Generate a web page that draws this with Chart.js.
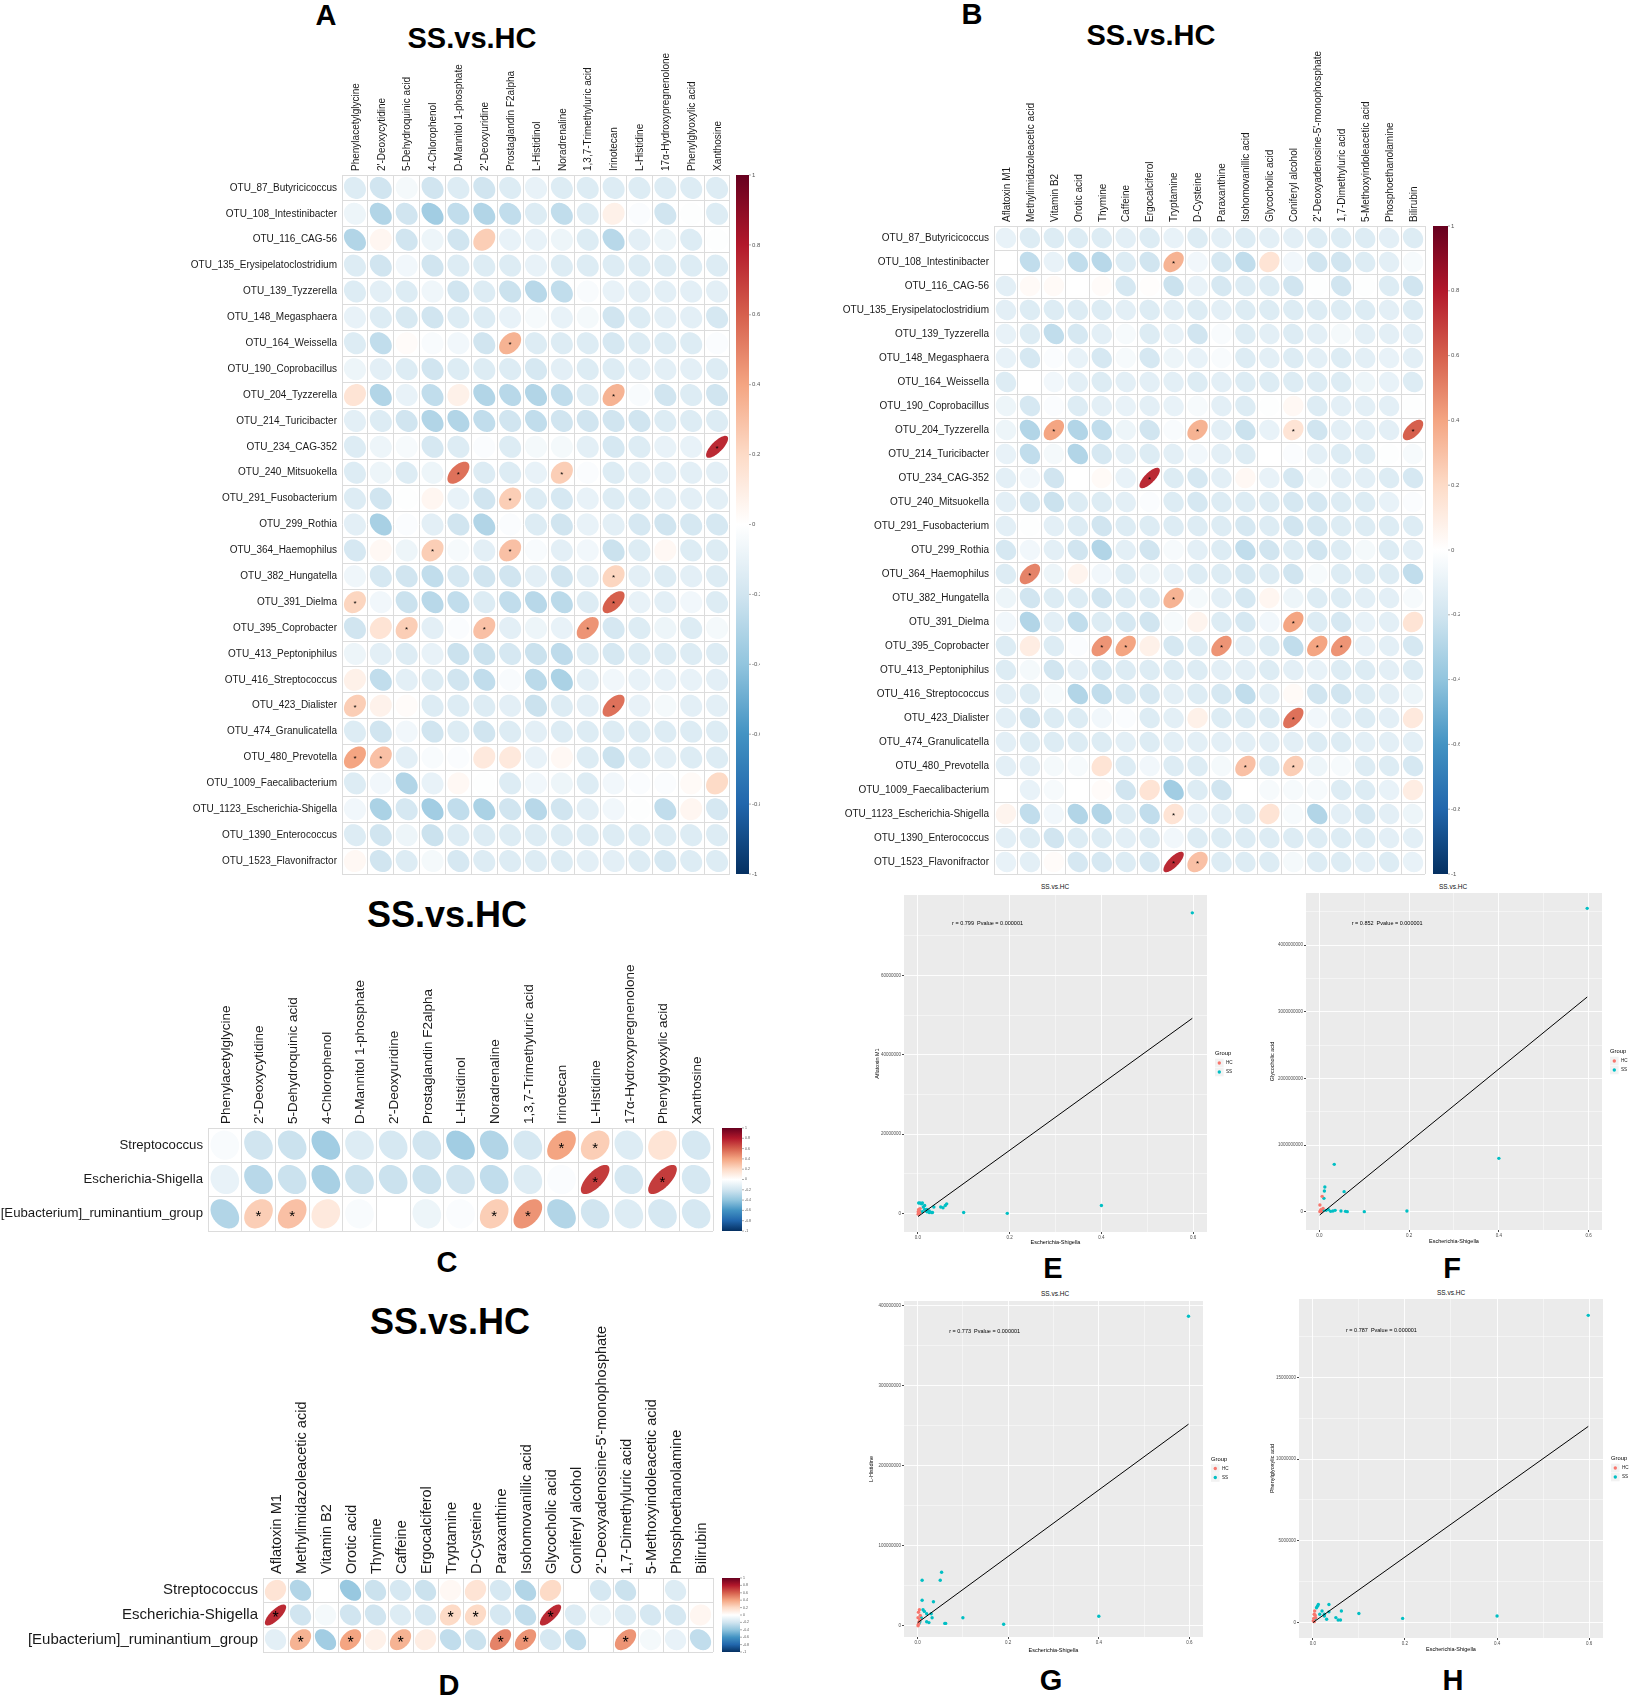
<!DOCTYPE html>
<html>
<head>
<meta charset="utf-8">
<script src="https://cdn.jsdelivr.net/npm/chart.js@4.4.1/dist/chart.umd.min.js"></script>
<style>
  body { margin: 0; background: #fff; width: 1629px; height: 1702px; position: relative; overflow: hidden;
         font-family: "Liberation Sans", Arial, sans-serif; }
  .box { position: absolute; }
  .txt { position: absolute; transform: translate(-50%, -50%); white-space: nowrap; color: #000; line-height: 1; }
  .letter { font-weight: bold; font-size: 29px; }
  .big { font-weight: bold; font-size: 29px; }
  .bigC { font-weight: bold; font-size: 36px; }
  .small { font-size: 6.5px; color: #111; }
</style>
</head>
<body>

<div class="txt letter" style="left:326px;top:15px">A</div>
<div class="txt big" style="left:472px;top:38px">SS.vs.HC</div>
<div class="txt letter" style="left:972px;top:14px">B</div>
<div class="txt big" style="left:1151px;top:35px">SS.vs.HC</div>
<div class="txt bigC" style="left:447px;top:915px">SS.vs.HC</div>
<div class="txt letter" style="left:447px;top:1262px">C</div>
<div class="txt bigC" style="left:450px;top:1322px">SS.vs.HC</div>
<div class="txt letter" style="left:449px;top:1685px">D</div>
<div class="txt letter" style="left:1053px;top:1268px">E</div>
<div class="txt letter" style="left:1452px;top:1268px">F</div>
<div class="txt letter" style="left:1051px;top:1680px">G</div>
<div class="txt letter" style="left:1453px;top:1680px">H</div>
<div class="txt small" style="left:1055px;top:887px">SS.vs.HC</div>
<div class="txt small" style="left:1453px;top:887px">SS.vs.HC</div>
<div class="txt small" style="left:1055px;top:1294px">SS.vs.HC</div>
<div class="txt small" style="left:1451px;top:1293px">SS.vs.HC</div>

<div class="box" style="left:185px;top:45px;width:600px;height:840px"><canvas id="chartA"></canvas></div>
<div class="box" style="left:830px;top:40px;width:640px;height:845px"><canvas id="chartB"></canvas></div>
<div class="box" style="left:0px;top:940px;width:770px;height:300px"><canvas id="chartC"></canvas></div>
<div class="box" style="left:0px;top:1315px;width:770px;height:350px"><canvas id="chartD"></canvas></div>
<div class="box" style="left:860px;top:880px;width:390px;height:370px"><canvas id="chartE"></canvas></div>
<div class="box" style="left:1250px;top:880px;width:379px;height:370px"><canvas id="chartF"></canvas></div>
<div class="box" style="left:860px;top:1285px;width:390px;height:370px"><canvas id="chartG"></canvas></div>
<div class="box" style="left:1250px;top:1285px;width:379px;height:370px"><canvas id="chartH"></canvas></div>

<script>
// ---- categories ----
const otuRows = ['OTU_87_Butyricicoccus', 'OTU_108_Intestinibacter', 'OTU_116_CAG-56', 'OTU_135_Erysipelatoclostridium',
  'OTU_139_Tyzzerella', 'OTU_148_Megasphaera', 'OTU_164_Weissella', 'OTU_190_Coprobacillus', 'OTU_204_Tyzzerella',
  'OTU_214_Turicibacter', 'OTU_234_CAG-352', 'OTU_240_Mitsuokella', 'OTU_291_Fusobacterium', 'OTU_299_Rothia',
  'OTU_364_Haemophilus', 'OTU_382_Hungatella', 'OTU_391_Dielma', 'OTU_395_Coprobacter', 'OTU_413_Peptoniphilus',
  'OTU_416_Streptococcus', 'OTU_423_Dialister', 'OTU_474_Granulicatella', 'OTU_480_Prevotella',
  'OTU_1009_Faecalibacterium', 'OTU_1123_Escherichia-Shigella', 'OTU_1390_Enterococcus', 'OTU_1523_Flavonifractor'];

const metabA = ['Phenylacetylglycine', "2'-Deoxycytidine", '5-Dehydroquinic acid', '4-Chlorophenol',
  'D-Mannitol 1-phosphate', "2'-Deoxyuridine", 'Prostaglandin F2alpha', 'L-Histidinol', 'Noradrenaline',
  '1,3,7-Trimethyluric acid', 'Irinotecan', 'L-Histidine', '17α-Hydroxypregnenolone', 'Phenylglyoxylic acid', 'Xanthosine'];

const metabB = ['Aflatoxin M1', 'Methylimidazoleacetic acid', 'Vitamin B2', 'Orotic acid', 'Thymine', 'Caffeine',
  'Ergocalciferol', 'Tryptamine', 'D-Cysteine', 'Paraxanthine', 'Isohomovanillic acid', 'Glycocholic acid',
  'Coniferyl alcohol', "2'-Deoxyadenosine-5'-monophosphate", '1,7-Dimethyluric acid', '5-Methoxyindoleacetic acid',
  'Phosphoethanolamine', 'Bilirubin'];

const genusRows = ['Streptococcus', 'Escherichia-Shigella', '[Eubacterium]_ruminantium_group'];

// ---- correlation values (rows x columns) ----
const valuesA = [
  [-0.15,-0.2,-0.05,-0.2,-0.15,-0.2,-0.15,-0.1,-0.15,-0.15,-0.15,-0.15,-0.15,-0.15,-0.15],
  [-0.08,-0.3,-0.2,-0.35,-0.25,-0.3,-0.25,-0.15,-0.25,-0.15,0.08,-0.02,-0.2,-0.01,-0.15],
  [-0.3,0.05,-0.2,-0.08,-0.2,0.25,-0.1,-0.1,-0.08,-0.15,-0.28,-0.12,-0.08,-0.15,-0.01],
  [-0.15,-0.2,-0.06,-0.2,-0.15,-0.15,-0.15,-0.1,-0.15,-0.15,-0.15,-0.15,-0.15,-0.15,-0.15],
  [-0.15,-0.12,-0.15,-0.07,-0.2,-0.15,-0.22,-0.28,-0.25,-0.03,-0.1,-0.12,-0.12,-0.12,-0.12],
  [-0.1,-0.15,-0.17,-0.2,-0.15,-0.15,-0.1,-0.04,-0.1,-0.05,-0.2,-0.15,-0.12,-0.12,-0.18],
  [-0.15,-0.25,0.02,-0.03,-0.06,-0.2,0.35,-0.15,-0.15,-0.15,-0.18,-0.15,-0.15,-0.15,-0.02],
  [-0.08,-0.12,-0.15,-0.2,-0.15,-0.15,-0.15,-0.18,-0.12,-0.15,-0.15,-0.12,-0.12,-0.12,-0.15],
  [0.15,-0.3,-0.1,-0.25,0.08,-0.3,-0.28,-0.3,-0.25,-0.15,0.35,-0.03,-0.2,-0.15,-0.2],
  [-0.12,-0.15,-0.2,-0.3,-0.3,-0.25,-0.2,-0.25,-0.2,-0.2,-0.2,-0.2,-0.15,-0.15,-0.15],
  [-0.15,-0.08,-0.04,-0.18,-0.15,-0.02,-0.15,-0.05,-0.05,-0.12,-0.18,-0.15,-0.1,-0.1,0.75],
  [-0.15,-0.08,-0.15,-0.08,0.55,-0.15,-0.15,-0.1,0.25,-0.02,-0.15,-0.12,-0.12,-0.12,-0.12],
  [-0.15,-0.2,-0.01,0.05,-0.1,-0.2,0.25,-0.15,-0.18,-0.1,-0.15,-0.15,-0.12,-0.12,-0.12],
  [-0.12,-0.33,-0.02,-0.12,-0.2,-0.3,-0.02,-0.15,-0.2,-0.1,-0.12,-0.18,-0.2,-0.18,-0.18],
  [-0.18,0.04,-0.08,0.25,-0.04,-0.12,0.3,-0.03,-0.12,-0.06,-0.22,-0.15,0.04,-0.15,-0.15],
  [-0.07,-0.18,-0.2,-0.25,-0.18,-0.2,-0.2,-0.12,-0.2,-0.12,0.22,-0.12,-0.15,-0.12,-0.15],
  [0.22,-0.06,-0.22,-0.28,-0.25,-0.15,-0.25,-0.28,-0.27,-0.15,0.6,-0.1,-0.12,-0.06,-0.15],
  [-0.2,0.15,0.25,-0.12,-0.02,0.3,-0.12,-0.08,-0.1,0.45,-0.18,-0.15,-0.08,-0.15,-0.05],
  [-0.08,-0.12,-0.15,-0.1,-0.22,-0.22,-0.18,-0.22,-0.26,-0.15,-0.18,-0.15,-0.15,-0.15,-0.15],
  [0.08,-0.25,-0.12,-0.15,-0.2,-0.25,-0.03,-0.27,-0.32,-0.12,-0.06,-0.1,-0.1,-0.1,-0.12],
  [0.25,0.07,0.02,-0.15,-0.15,-0.15,-0.12,-0.22,-0.15,-0.12,0.55,-0.1,-0.05,-0.12,-0.12],
  [-0.15,-0.2,-0.06,-0.2,-0.15,-0.2,-0.15,-0.12,-0.15,-0.15,-0.15,-0.15,-0.15,-0.15,-0.15],
  [0.4,0.3,-0.12,-0.03,-0.02,0.12,0.12,-0.1,0.04,-0.15,-0.22,-0.15,-0.12,-0.15,-0.15],
  [-0.15,-0.06,-0.3,-0.1,0.04,-0.01,-0.15,-0.06,-0.08,-0.15,-0.06,-0.02,-0.02,0.03,0.2],
  [-0.06,-0.32,-0.18,-0.35,-0.25,-0.32,-0.2,-0.28,-0.2,-0.12,-0.06,-0.01,-0.25,0.05,-0.18],
  [-0.15,-0.2,-0.08,-0.22,-0.15,-0.15,-0.15,-0.15,-0.15,-0.15,-0.15,-0.15,-0.15,-0.15,-0.15],
  [0.04,-0.2,-0.15,-0.05,-0.18,-0.15,-0.15,-0.15,-0.15,-0.12,-0.12,-0.15,-0.18,-0.15,-0.15]
];
const sigA = [[6,6],[8,10],[10,14],[11,4],[11,8],[12,6],[14,3],[14,6],[15,10],[16,0],[16,10],
  [17,2],[17,5],[17,9],[20,0],[20,10],[22,0],[22,1]];

const valuesB = [
  [-0.1,-0.15,-0.15,-0.15,-0.15,-0.12,-0.15,-0.1,-0.15,-0.12,-0.15,-0.12,-0.12,-0.15,-0.15,-0.15,-0.12,-0.15],
  [0,-0.25,-0.1,-0.25,-0.28,-0.15,-0.2,0.35,-0.06,-0.18,-0.25,0.15,-0.06,-0.2,-0.2,-0.15,-0.12,-0.04],
  [-0.12,0.03,0.03,0,0.02,-0.18,0.01,-0.22,-0.1,-0.18,-0.15,-0.15,-0.2,-0.01,-0.2,-0.01,-0.15,-0.2],
  [-0.12,-0.15,-0.15,-0.15,-0.15,-0.12,-0.15,-0.12,-0.15,-0.12,-0.15,-0.15,-0.15,-0.15,-0.15,-0.15,-0.12,-0.15],
  [-0.1,-0.15,-0.25,-0.18,-0.12,-0.04,-0.15,-0.1,-0.2,-0.03,-0.15,-0.12,-0.15,-0.12,-0.05,-0.12,-0.12,-0.12],
  [-0.1,-0.18,-0.02,-0.1,-0.18,-0.04,-0.18,-0.08,-0.1,-0.03,-0.15,-0.12,-0.15,-0.12,-0.15,-0.12,-0.1,-0.12],
  [-0.15,0,-0.06,-0.12,-0.15,-0.12,-0.12,-0.12,-0.15,-0.12,-0.15,-0.15,-0.15,-0.15,-0.15,-0.08,-0.1,-0.15],
  [-0.08,-0.18,-0.02,-0.15,-0.12,-0.1,-0.12,-0.1,-0.04,-0.12,-0.15,-0.01,0.04,-0.15,-0.12,-0.12,-0.12,-0.01],
  [-0.08,-0.3,0.4,-0.3,-0.25,-0.08,-0.2,-0.03,0.35,-0.12,-0.22,-0.1,0.15,-0.2,-0.12,-0.12,-0.12,0.6],
  [-0.1,-0.25,-0.05,-0.3,-0.18,-0.12,-0.15,-0.12,-0.06,-0.12,-0.15,0,-0.02,-0.12,-0.15,-0.15,-0.01,-0.04],
  [-0.12,-0.06,-0.2,0,0.03,-0.1,0.75,-0.15,-0.18,-0.12,0.04,-0.1,-0.18,-0.05,-0.12,-0.12,-0.15,-0.18],
  [-0.12,-0.18,-0.22,-0.15,-0.15,-0.12,-0.02,-0.15,-0.18,-0.15,-0.15,-0.15,-0.18,-0.18,-0.15,-0.15,-0.1,-0.02],
  [-0.12,-0.01,-0.12,-0.15,-0.2,-0.15,-0.15,-0.15,-0.15,-0.15,-0.18,-0.15,-0.2,-0.18,-0.15,-0.15,-0.15,-0.15],
  [-0.18,-0.06,-0.12,-0.2,-0.3,-0.12,-0.2,-0.04,-0.12,-0.15,-0.25,-0.2,-0.15,-0.2,-0.15,-0.05,-0.15,-0.12],
  [-0.15,0.5,-0.08,0.06,-0.06,-0.15,-0.08,-0.1,-0.15,-0.15,-0.18,-0.15,-0.2,-0.04,-0.15,-0.15,-0.15,-0.25],
  [-0.08,-0.2,-0.15,-0.15,-0.2,-0.15,-0.15,0.35,-0.05,-0.12,-0.18,0.05,-0.08,-0.15,-0.15,-0.12,-0.12,-0.04],
  [-0.06,-0.3,-0.12,-0.25,-0.15,-0.18,-0.2,-0.04,0.06,-0.15,-0.18,-0.06,0.4,-0.15,-0.18,-0.1,-0.12,0.15],
  [-0.15,0.1,-0.15,-0.02,0.45,0.4,0.08,-0.18,-0.15,0.45,-0.12,-0.15,-0.25,0.4,0.45,-0.1,-0.12,-0.18],
  [-0.15,-0.05,-0.2,-0.12,-0.18,-0.15,-0.15,-0.15,-0.15,-0.12,-0.12,-0.15,-0.12,-0.1,-0.15,-0.15,-0.12,-0.15],
  [-0.12,-0.15,-0.04,-0.3,-0.25,-0.18,-0.18,-0.12,-0.15,-0.18,-0.25,-0.12,0.03,-0.2,-0.2,-0.15,-0.12,-0.08],
  [-0.12,-0.2,-0.15,-0.15,-0.06,-0.02,-0.15,-0.12,0.08,-0.15,-0.15,-0.15,0.55,-0.06,-0.12,-0.15,-0.12,0.12],
  [-0.12,-0.15,-0.15,-0.15,-0.15,-0.12,-0.15,-0.12,-0.12,-0.12,-0.12,-0.12,-0.12,-0.15,-0.15,-0.12,-0.12,-0.12],
  [-0.12,-0.12,-0.05,-0.04,0.15,-0.15,-0.06,-0.15,-0.15,-0.05,0.3,-0.15,0.25,-0.08,-0.04,-0.15,-0.15,-0.18],
  [0,-0.1,-0.04,0,0.02,-0.2,0.15,-0.35,-0.15,-0.2,0,-0.04,-0.04,-0.04,-0.15,-0.15,-0.1,0.1],
  [0.06,-0.25,-0.06,-0.3,-0.3,-0.15,-0.25,0.15,-0.1,-0.12,-0.15,0.15,-0.04,-0.3,-0.12,-0.18,-0.12,-0.08],
  [-0.12,-0.15,-0.2,-0.15,-0.15,-0.12,-0.15,-0.06,-0.15,-0.15,-0.15,-0.15,-0.15,-0.15,-0.15,-0.15,-0.12,-0.12],
  [-0.1,-0.12,0.02,-0.18,-0.18,-0.15,-0.18,0.75,0.3,-0.15,-0.15,-0.15,-0.05,-0.15,-0.15,-0.12,-0.15,-0.1]
];
const sigB = [[1,7],[8,2],[8,8],[8,12],[8,17],[10,6],[14,1],[15,7],[16,12],[17,4],[17,5],[17,9],[17,13],
  [17,14],[20,12],[22,10],[22,12],[24,7],[26,7],[26,8]];

const valuesC = [
  [-0.03,-0.2,-0.22,-0.35,-0.15,-0.18,-0.2,-0.35,-0.3,-0.18,0.4,0.25,-0.15,0.15,-0.18],
  [-0.1,-0.28,-0.22,-0.33,-0.22,-0.22,-0.22,-0.2,-0.25,-0.15,-0.02,0.7,-0.18,0.7,-0.18],
  [-0.3,0.25,0.3,0.12,-0.03,0,-0.08,-0.02,0.25,0.45,-0.3,-0.2,-0.15,-0.18,-0.18]
];
const sigC = [[0,10],[0,11],[1,11],[1,13],[2,1],[2,2],[2,8],[2,9]];

const valuesD = [
  [0.15,-0.3,0,-0.38,-0.22,-0.18,-0.22,0.04,0.15,-0.18,-0.3,0.2,0,-0.18,-0.22,0,-0.15,0],
  [0.75,-0.2,-0.05,-0.2,-0.2,-0.15,-0.18,0.2,0.2,-0.18,-0.25,0.75,-0.15,-0.08,-0.15,-0.18,-0.18,0.05],
  [-0.12,0.35,-0.35,0.4,0.08,0.35,0.1,-0.25,-0.22,0.5,0.45,-0.18,-0.25,0,0.45,-0.05,-0.1,-0.25]
];
const sigD = [[1,0],[1,7],[1,8],[1,11],[2,1],[2,3],[2,5],[2,9],[2,10],[2,14]];

// ---- scatter panels: [x, y] pairs ----
const ssE = [[0.598,7.58e7],[0.4,2.0e6],[0.195,0],[0.1,2e5],[0.063,2.4e6],[0.06,2.0e6],[0.055,1.4e6],[0.05,1.6e6],
  [0.035,1.6e6],[0.032,2e5],[0.03,2e5],[0.025,2e5],[0.02,4e5],[0.015,2e6],[0.012,1.6e6],[0.01,2.6e6],[0.008,2.4e6],
  [0.005,2.6e6],[0.002,2.6e6],[0.01,4e5],[0.015,1e6],[0.02,1e6],[0.025,6e5],[0.004,6e5]];
const hcE = [[0.001,4e5],[0.002,1e6],[0.003,6e5],[0.004,2e5],[0.001,-2e5],[0.005,1.2e6],[0.002,0]];
const fitE = [[0.0005,-8e5],[0.598,4.92e7]];

const ssF = [[0.597,4.55e9],[0.4,8e8],[0.195,1e7],[0.1,0],[0.062,0],[0.058,5e6],[0.055,3e8],[0.048,1e7],
  [0.033,7.1e8],[0.012,3.7e8],[0.011,3.1e8],[0.01,2e8],[0.035,2e7],[0.03,1e7],[0.025,5e6],[0.02,3e7],
  [0.015,2e7],[0.008,2e7],[0.005,1e7]];
const hcF = [[0.001,1e8],[0.006,2.3e8],[0.002,1e7],[0.003,3e7],[0.004,5e6],[0.001,0],[0.008,5e7]];
const fitF = [[0.0005,-5e7],[0.597,3.22e9]];

const ssG = [[0.598,3.87e8],[0.4,1.2e7],[0.19,2e6],[0.1,1e7],[0.06,3e6],[0.062,3e6],[0.05,5.7e7],[0.053,6.7e7],
  [0.01,5.7e7],[0.01,3.2e7],[0.035,3e7],[0.03,1.5e7],[0.032,1e7],[0.02,5e6],[0.025,4e6],[0.015,1.8e7],
  [0.02,1.5e7],[0.012,2e7],[0.008,1e7],[0.005,5e6],[0.003,3e6]];
const hcG = [[0.002,1.7e7],[0.004,2e7],[0.001,1e7],[0.003,5e6],[0.002,2e6],[0.005,8e6],[0.001,0],[0.006,1.3e7]];
const fitG = [[0.0005,4e6],[0.598,2.52e8]];

const ssH = [[0.598,1.88e7],[0.4,4e5],[0.195,2.5e5],[0.1,5.5e5],[0.06,1.5e5],[0.055,1.5e5],[0.062,7e5],[0.05,3e5],
  [0.035,1.1e6],[0.035,6.5e5],[0.01,1e6],[0.012,1.1e6],[0.008,9e5],[0.02,7e5],[0.025,4e5],[0.03,2e5],
  [0.015,5e5],[0.025,5e5],[0.005,2.5e5]];
const hcH = [[0.002,2.5e5],[0.003,5e5],[0.004,7e5],[0.001,1e5],[0.006,3e5],[0.003,5e4],[0.005,4.5e5]];
const fitH = [[0.0005,0],[0.598,1.2e7]];

// ---- tick values ----
const xMajor = [0, 0.2, 0.4, 0.6];
const xMinor = [0.1, 0.3, 0.5];
const yMajorE = [0, 2e7, 4e7, 6e7], yMinorE = [1e7, 3e7, 5e7, 7e7];
const yMajorF = [0, 1e9, 2e9, 3e9, 4e9], yMinorF = [5e8, 1.5e9, 2.5e9, 3.5e9, 4.5e9];
const yMajorG = [0, 1e8, 2e8, 3e8, 4e8], yMinorG = [5e7, 1.5e8, 2.5e8, 3.5e8];
const yMajorH = [0, 5e6, 1e7, 1.5e7], yMinorH = [2.5e6, 7.5e6, 1.25e7, 1.75e7];

const corrStops = ['#053061', '#2166AC', '#4393C3', '#92C5DE', '#D1E5F0', '#FFFFFF',
  '#FDDBC7', '#F4A582', '#D6604D', '#B2182B', '#67001F'];

const sansFont = '"Liberation Sans", Arial, sans-serif';
Chart.defaults.font.family = sansFont;

function hexToRgb(h) {
  return [parseInt(h.slice(1, 3), 16), parseInt(h.slice(3, 5), 16), parseInt(h.slice(5, 7), 16)];
}

function corrColor(v) {
  const pos = (Math.max(-1, Math.min(1, v)) + 1) / 2 * (corrStops.length - 1);
  const i = Math.min(Math.floor(pos), corrStops.length - 2);
  const f = pos - i;
  const a = hexToRgb(corrStops[i]), b = hexToRgb(corrStops[i + 1]);
  const c = a.map((ch, k) => Math.round(ch + (b[k] - ch) * f));
  return `rgb(${c[0]},${c[1]},${c[2]})`;
}

function cellData(rows, cols, values, sig) {
  const out = [];
  rows.forEach((row, i) => {
    cols.forEach((col, j) => {
      out.push({ x: col, y: row, v: values[i][j], sig: sig.some(s => s[0] === i && s[1] === j) });
    });
  });
  return out;
}

// stop edge labels from eating into the plot area
function noEdgePadding(s) {
  s.paddingTop = 0; s.paddingBottom = 0; s.paddingLeft = 0; s.paddingRight = 0;
}

// corrplot-style ellipses, drawn at the points placed by the category scales
const ellipsePlugin = {
  id: 'ellipses',
  afterDatasetsDraw(chart, args, opts) {
    const { ctx, chartArea, scales } = chart;
    const cw = chartArea.width / scales.x.getLabels().length;
    const ch = chartArea.height / scales.y.getLabels().length;
    const ds = chart.data.datasets[0];
    const meta = chart.getDatasetMeta(0);
    ctx.save();
    meta.data.forEach((pt, i) => {
      const cell = ds.data[i];
      const d = Math.acos(cell.v);
      ctx.beginPath();
      for (let k = 0; k <= 72; k++) {
        const t = k / 72 * 2 * Math.PI;
        const ex = pt.x + Math.cos(t + d / 2) / 2 * 0.85 * cw;
        const ey = pt.y - Math.cos(t - d / 2) / 2 * 0.85 * ch;
        if (k === 0) ctx.moveTo(ex, ey); else ctx.lineTo(ex, ey);
      }
      ctx.closePath();
      ctx.fillStyle = corrColor(cell.v);
      ctx.fill();
      if (cell.sig) {
        ctx.fillStyle = '#000';
        ctx.font = opts.starSize + 'px ' + sansFont;
        ctx.textAlign = 'center';
        ctx.textBaseline = 'middle';
        ctx.fillText('*', pt.x, pt.y + opts.starSize * 0.22);
      }
    });
    ctx.restore();
  }
};

const colorbarPlugin = {
  id: 'colorbar',
  afterDraw(chart, args, opts) {
    const { ctx, chartArea } = chart;
    const cb = chart.scales.cb;
    const top = cb.getPixelForValue(1), bottom = cb.getPixelForValue(-1);
    const x0 = chartArea.right + opts.gap;
    const grad = ctx.createLinearGradient(0, top, 0, bottom);
    corrStops.slice().reverse().forEach((c, i) => grad.addColorStop(i / (corrStops.length - 1), c));
    ctx.save();
    ctx.fillStyle = grad;
    ctx.fillRect(x0, top, opts.width, bottom - top);
    ctx.strokeStyle = '#777';
    ctx.lineWidth = 0.6;
    cb.ticks.forEach(t => {
      const y = cb.getPixelForValue(t.value);
      ctx.beginPath();
      ctx.moveTo(x0 + opts.width, y);
      ctx.lineTo(x0 + opts.width + 2, y);
      ctx.stroke();
    });
    ctx.restore();
  }
};

function corrChart(id, rows, cols, values, sig, cfg) {
  const gridColor = '#DCDCDC';
  return new Chart(document.getElementById(id), {
    type: 'scatter',
    data: { datasets: [{ data: cellData(rows, cols, values, sig), pointRadius: 0 }] },
    options: {
      responsive: true,
      maintainAspectRatio: false,
      animation: false,
      events: [],
      layout: { padding: { left: 0, top: 0, right: cfg.padRight, bottom: cfg.padBottom } },
      plugins: {
        legend: { display: false },
        tooltip: { enabled: false },
        ellipses: { starSize: cfg.starSize },
        colorbar: { gap: cfg.cbGap, width: cfg.cbWidth }
      },
      scales: {
        x: {
          type: 'category', labels: cols, position: 'top', offset: true,
          grid: { offset: true, color: gridColor, drawTicks: false },
          border: { display: false },
          ticks: { autoSkip: false, minRotation: 90, maxRotation: 90, padding: 4,
                   labelOffset: cfg.fontSize * 1.2 + 1,
                   color: '#1a1a1a', font: { size: cfg.fontSize } },
          afterFit: s => { s.height = cfg.axisTop; noEdgePadding(s); }
        },
        y: {
          type: 'category', labels: rows, position: 'left', offset: true,
          grid: { offset: true, color: gridColor, drawTicks: false },
          border: { display: false },
          ticks: { autoSkip: false, padding: 5, color: '#1a1a1a', font: { size: cfg.rowFontSize } },
          afterFit: s => { s.width = cfg.axisLeft; noEdgePadding(s); }
        },
        cb: {
          type: 'linear', position: 'right', min: -1, max: 1,
          grid: { display: false, drawTicks: false },
          border: { display: false },
          ticks: { stepSize: 0.2, padding: cfg.cbGap + cfg.cbWidth + 3, color: '#555',
                   font: { size: cfg.cbFont }, callback: v => String(Math.round(v * 10) / 10) },
          afterFit: s => { s.width = cfg.cbBox; noEdgePadding(s); }
        }
      }
    },
    plugins: [ellipsePlugin, colorbarPlugin]
  });
}

corrChart('chartA', otuRows, metabA, valuesA, sigA, {
  axisLeft: 157, axisTop: 130, padRight: 25, padBottom: 11, cbBox: 30, cbGap: 6, cbWidth: 13, cbFont: 6,
  fontSize: 10, rowFontSize: 10, starSize: 8
});
corrChart('chartB', otuRows, metabB, valuesB, sigB, {
  axisLeft: 164, axisTop: 186, padRight: 10, padBottom: 11, cbBox: 35, cbGap: 8, cbWidth: 15, cbFont: 6,
  fontSize: 10, rowFontSize: 10, starSize: 8
});
corrChart('chartC', genusRows, metabA, valuesC, sigC, {
  axisLeft: 208, axisTop: 188, padRight: 17, padBottom: 9, cbBox: 40, cbGap: 9, cbWidth: 20, cbFont: 3.5,
  fontSize: 13.5, rowFontSize: 13.2, starSize: 15
});
corrChart('chartD', genusRows, metabB, valuesD, sigD, {
  axisLeft: 263, axisTop: 263, padRight: 17, padBottom: 13, cbBox: 40, cbGap: 9, cbWidth: 18, cbFont: 3.5,
  fontSize: 14.5, rowFontSize: 15, starSize: 16
});

// ---- ggplot-like scatter panels ----
const ggPanel = {
  id: 'ggPanel',
  beforeDraw(chart) {
    const { ctx, chartArea } = chart;
    ctx.save();
    ctx.fillStyle = '#EBEBEB';
    ctx.fillRect(chartArea.left, chartArea.top, chartArea.width, chartArea.height);
    ctx.restore();
  },
  afterDraw(chart, args, opts) {
    const { ctx, chartArea, scales } = chart;
    ctx.save();
    // r / p annotation at data coordinates
    ctx.fillStyle = '#000';
    ctx.font = '5.5px ' + sansFont;
    ctx.textAlign = 'center';
    ctx.textBaseline = 'middle';
    ctx.fillText(opts.note, scales.x.getPixelForValue(opts.noteAt[0]), scales.y.getPixelForValue(opts.noteAt[1]));
    // legend
    const lx = chartArea.right + 8;
    const my = (chartArea.top + chartArea.bottom) / 2;
    ctx.textAlign = 'left';
    ctx.font = '5.8px ' + sansFont;
    ctx.fillText('Group', lx, my - 10);
    ctx.font = '4.6px ' + sansFont;
    chart.data.datasets.filter(d => d.type !== 'line').forEach((d, i) => {
      const ky = my - 0.5 + i * 9;
      ctx.fillStyle = '#F2F2F2';
      ctx.fillRect(lx, ky - 4.3, 8.6, 8.6);
      ctx.fillStyle = d.backgroundColor;
      ctx.beginPath();
      ctx.arc(lx + 4.3, ky, 1.7, 0, Math.PI * 2);
      ctx.fill();
      ctx.fillStyle = '#1a1a1a';
      ctx.fillText(d.label, lx + 11, ky);
    });
    ctx.restore();
  }
};

function toPts(arr) { return arr.map(p => ({ x: p[0], y: p[1] })); }

function tickAxis(min, max, major, minor, fmt, extra) {
  const all = major.concat(minor).sort((a, b) => a - b);
  const isMajor = v => major.some(m => Math.abs(m - v) < 1e-9 * Math.max(1, Math.abs(m)));
  return Object.assign({
    type: 'linear', min, max,
    afterBuildTicks: s => { s.ticks = all.map(v => ({ value: v })); },
    grid: {
      color: '#FFFFFF',
      lineWidth: c => (c.tick && isMajor(c.tick.value) ? 0.9 : 0.45),
      tickColor: c => (c.tick && isMajor(c.tick.value) ? '#333333' : 'rgba(0,0,0,0)'),
      tickLength: 2
    },
    border: { display: false },
    ticks: { autoSkip: false, padding: 1, color: '#4D4D4D', font: { size: 4.5 },
             callback: v => (isMajor(v) ? fmt(v) : '') }
  }, extra);
}

function scatterChart(id, cfg) {
  return new Chart(document.getElementById(id), {
    type: 'scatter',
    data: {
      datasets: [
        { label: 'HC', data: toPts(cfg.hc), backgroundColor: '#F8766D', pointRadius: 1.7, borderWidth: 0, order: 1 },
        { label: 'SS', data: toPts(cfg.ss), backgroundColor: '#00BFC4', pointRadius: 1.7, borderWidth: 0, order: 2 },
        { type: 'line', label: 'fit', data: toPts(cfg.fit), borderColor: '#000', borderWidth: 1,
          pointRadius: 0, fill: false, order: 0 }
      ]
    },
    options: {
      responsive: true,
      maintainAspectRatio: false,
      animation: false,
      events: [],
      layout: { padding: { left: 0, top: cfg.padTop, right: cfg.padRight, bottom: 0 } },
      plugins: {
        legend: { display: false },
        tooltip: { enabled: false },
        ggPanel: { note: cfg.note, noteAt: cfg.noteAt }
      },
      scales: {
        x: tickAxis(-0.03, 0.63, xMajor, xMinor, v => v.toFixed(1), {
          title: { display: true, text: 'Escherichia-Shigella', color: '#000', font: { size: 5.5 },
                   padding: { top: 0, bottom: cfg.xTitlePad } },
          afterFit: s => { s.height = cfg.axisBottom; noEdgePadding(s); }
        }),
        y: tickAxis(cfg.yMin, cfg.yMax, cfg.yMajor, cfg.yMinor, v => String(v), {
          title: { display: true, text: cfg.yTitle, color: '#000', font: { size: 5.5 },
                   padding: { top: cfg.yTitlePad, bottom: 0 } },
          afterFit: s => { s.width = cfg.axisLeft; noEdgePadding(s); }
        })
      }
    },
    plugins: [ggPanel]
  });
}

scatterChart('chartE', {
  ss: ssE, hc: hcE, fit: fitE, yMin: -4.7e6, yMax: 8.03e7, yMajor: yMajorE, yMinor: yMinorE,
  yTitle: 'Aflatoxin M1', note: 'r = 0.799  Pvalue = 0.000001', noteAt: [0.152, 7.3e7],
  axisLeft: 44, axisBottom: 18, padTop: 15, padRight: 43, yTitlePad: 13.7, xTitlePad: 4.7
});
scatterChart('chartF', {
  ss: ssF, hc: hcF, fit: fitF, yMin: -2.75e8, yMax: 4.78e9, yMajor: yMajorF, yMinor: yMinorF,
  yTitle: 'Glycocholic acid', note: 'r = 0.852  Pvalue = 0.000001', noteAt: [0.151, 4.33e9],
  axisLeft: 56, axisBottom: 20, padTop: 13, padRight: 27, yTitlePad: 18.7, xTitlePad: 5.7
});
scatterChart('chartG', {
  ss: ssG, hc: hcG, fit: fitG, yMin: -1.4e7, yMax: 4.06e8, yMajor: yMajorG, yMinor: yMinorG,
  yTitle: 'L-Histidine', note: 'r = 0.773  Pvalue = 0.000001', noteAt: [0.148, 3.675e8],
  axisLeft: 44, axisBottom: 18, padTop: 16, padRight: 47, yTitlePad: 7.7, xTitlePad: 1
});
scatterChart('chartH', {
  ss: ssH, hc: hcH, fit: fitH, yMin: -9.5e5, yMax: 1.98e7, yMajor: yMajorH, yMinor: yMinorH,
  yTitle: 'Phenylglyoxylic acid', note: 'r = 0.787  Pvalue = 0.000001', noteAt: [0.149, 1.79e7],
  axisLeft: 49, axisBottom: 17, padTop: 14, padRight: 26, yTitlePad: 18.7, xTitlePad: 2.7
});
</script>
</body>
</html>
